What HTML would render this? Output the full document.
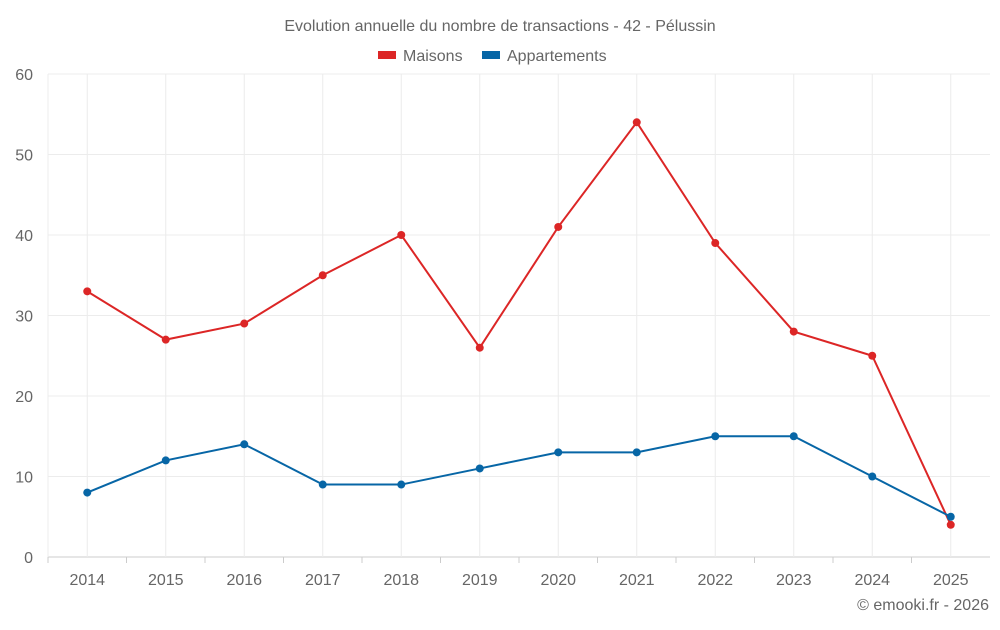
<!DOCTYPE html>
<html><head><meta charset="utf-8">
<style>
html,body{margin:0;padding:0;background:#fff;}
svg text{font-family:"Liberation Sans",sans-serif;fill:#666;}
</style></head>
<body>
<svg id="chart" width="1000" height="625" xmlns="http://www.w3.org/2000/svg">
<text x="500" y="31" text-anchor="middle" font-size="16">Evolution annuelle du nombre de transactions - 42 - Pélussin</text>
<g>
<g><rect x="378" y="51" width="18" height="8" fill="#dc2626"/><text x="403" y="61" font-size="16">Maisons</text></g>
<g><rect x="482" y="51" width="18" height="8" fill="#0766a6"/><text x="507" y="61" font-size="16">Appartements</text></g>
</g>
<g id="grid"></g><g id="axes"></g><g id="series"></g>
<text x="989" y="610" text-anchor="end" font-size="16">© emooki.fr - 2026</text>
</svg>
<script>
const categories=["2014","2015","2016","2017","2018","2019","2020","2021","2022","2023","2024","2025"];
const maisons=[33,27,29,35,40,26,41,54,39,28,25,4];
const appartements=[8,12,14,9,9,11,13,13,15,15,10,5];
const yTicks=[0,10,20,30,40,50,60];
const L=48,R=990,T=74,B=557,yMax=60;
const NS="http://www.w3.org/2000/svg";
const bw=(R-L)/categories.length;
function x(i){return L+bw*(i+0.5);}
function y(v){return B-(v/yMax)*(B-T);}
function mk(tag,at,parent){const e=document.createElementNS(NS,tag);for(const k in at)e.setAttribute(k,at[k]);parent.appendChild(e);return e;}
const grid=document.getElementById('grid'),axes=document.getElementById('axes'),ser=document.getElementById('series');
yTicks.forEach(t=>{
 const l=mk('line',{x1:L,x2:R,y1:y(t),y2:y(t),stroke:t===0?'#ccc':'#ececec'},grid);
 
 
 const tx=mk('text',{x:33,y:y(t)+6,'text-anchor':'end','font-size':16},axes);
 tx.textContent=t;
 
 
});
mk('line',{x1:L,x2:L,y1:T,y2:B,stroke:'#ececec'},grid);
categories.forEach((c,i)=>{
 const l=mk('line',{x1:x(i),x2:x(i),y1:T,y2:B,stroke:'#ececec'},grid);
 
 
 const tk=mk('line',{x1:L+bw*i,x2:L+bw*i,y1:B,y2:B+6,stroke:'#ccc'},axes);
 
 
 const tx=mk('text',{x:x(i),y:585,'text-anchor':'middle','font-size':16},axes);
 tx.textContent=c;
 
 
});
function draw(data,color,name){
 const p=mk('polyline',{points:data.map((v,i)=>x(i)+','+y(v)).join(' '),fill:'none',stroke:color,'stroke-width':2},ser);
 
 
 data.forEach((v,i)=>{
  const c=mk('circle',{cx:x(i),cy:y(v),r:4,fill:color},ser);
  
  
 });
}
draw(maisons,'#dc2626','maisons');
draw(appartements,'#0766a6','appartements');
</script>
</body></html>
